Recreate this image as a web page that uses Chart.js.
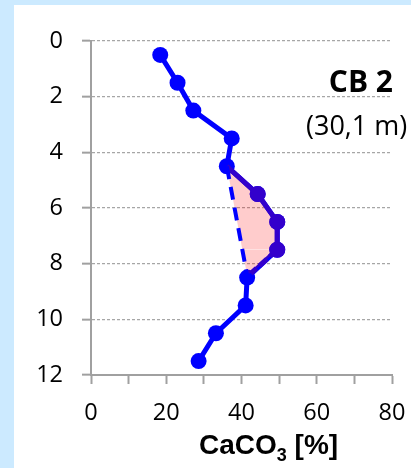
<!DOCTYPE html>
<html><head><meta charset="utf-8">
<script src="https://cdn.jsdelivr.net/npm/chart.js@4"></script>
<style>
html,body{margin:0;padding:0;width:411px;height:468px;overflow:hidden;background:#cceaff;}
#panel{position:absolute;left:14px;top:5px;width:397px;height:463px;background:#fff;}
#c{position:absolute;left:0;top:0;}
</style></head><body>
<div id="panel"></div>
<canvas id="c" width="411" height="468"></canvas>
<script>
// depth below surface [m] and CaCO3 content [%]
const depthM   = [0.5, 1.5, 2.5, 3.5, 4.5, 5.5, 6.5, 7.5, 8.5, 9.5, 10.5, 11.5];
const caco3Pct = [18.4, 23.0, 27.2, 37.4, 36.1, 44.3, 49.5, 49.5, 41.5, 41.1, 33.2, 28.6];
// shaded excess (polygon right edge) and dashed baseline
const shadeDepth = [4.5, 5.5, 6.5, 7.5, 8.35];
const shadePct   = [36.1, 44.3, 49.5, 49.5, 42.5];
const baseDepth  = [4.5, 8.5];
const basePct    = [36.1, 41.6];
// tick labels
const xTickLabels = [0, 20, 40, 60, 80];
const yTickLabels = [0, 2, 4, 6, 8, 10, 12];
const siteName = 'CB 2';
const siteElev = '(30,1 m)';
const xTitleMain = 'CaCO';
const xTitleSub = '3';
const xTitleTail = ' [%]';

const pts = (xs, ys) => xs.map((v, i) => ({x: v, y: ys[i]}));

const textPlugin = {
  id: 'texts',
  afterDraw(chart) {
    const ctx = chart.ctx;
    ctx.save();
    ctx.fillStyle = '#000';
    ctx.textBaseline = 'alphabetic';
    ctx.font = 'bold 30px "Open Sans"';
    ctx.textAlign = 'right';
    ctx.fillText(siteName, 393, 92);
    ctx.font = '27px "Open Sans"';
    ctx.textAlign = 'left';
    ctx.fillText(siteElev, 306, 135);
    let x = 199;
    ctx.font = 'bold 28px "Liberation Sans"';
    ctx.fillText(xTitleMain, x, 454);
    x += ctx.measureText(xTitleMain).width;
    ctx.font = 'bold 18px "Liberation Sans"';
    ctx.fillText(xTitleSub, x, 461);
    x += ctx.measureText(xTitleSub).width;
    ctx.font = 'bold 28px "Liberation Sans"';
    ctx.fillText(xTitleTail, x, 454);
    ctx.restore();
  }
};

new Chart(document.getElementById('c'), {
  type: 'line',
  data: {
    datasets: [
      {
        label: 'baseline',
        data: pts(basePct, baseDepth),
        borderColor: '#0000ff',
        borderWidth: 4,
        borderDash: [13, 8],
        pointRadius: 0,
        fill: false
      },
      {
        label: 'excess',
        data: pts(shadePct, shadeDepth),
        borderColor: '#3300cc',
        borderWidth: 5,
        backgroundColor: 'rgba(255,0,0,0.2)',
        fill: '-1',
        pointRadius: [0, 8, 8, 8, 0],
        pointBackgroundColor: '#3300cc',
        pointBorderWidth: 0,
        segment: {
          borderDash: c => (c.p1DataIndex === 4 ? [10, 4] : undefined)
        }
      },
      {
        label: 'CaCO3',
        data: pts(caco3Pct, depthM),
        borderColor: '#0000ff',
        borderWidth: 5,
        pointRadius: 8,
        pointBackgroundColor: '#0000ff',
        pointBorderWidth: 0,
        fill: false
      }
    ]
  },
  options: {
    indexAxis: 'y',
    responsive: false,
    animation: false,
    devicePixelRatio: 1,
    layout: { padding: { left: 0, right: 19, top: 41, bottom: 0 } },
    plugins: { legend: { display: false }, tooltip: { enabled: false } },
    elements: { line: { tension: 0 } },
    scales: {
      x: {
        type: 'linear',
        position: 'bottom',
        min: 0, max: 80,
        afterFit: s => { s.height = 93; s.paddingLeft = 0; s.paddingRight = 0; },
        ticks: {
          stepSize: 10,
          autoSkip: false,
          maxRotation: 0,
          padding: 15,
          color: '#000',
          font: { family: '"Open Sans"', size: 23.5 },
          callback: v => (xTickLabels.includes(v) ? String(v) : '')
        },
        grid: {
          drawOnChartArea: false,
          drawTicks: true,
          tickLength: 9,
          tickColor: '#a0a0a0',
          tickWidth: 2
        },
        border: { display: true, color: '#a0a0a0', width: 2 }
      },
      y: {
        type: 'linear',
        position: 'left',
        reverse: true,
        min: 0, max: 12,
        afterFit: s => { s.width = 91; s.paddingTop = 0; s.paddingBottom = 0; },
        ticks: {
          stepSize: 2,
          padding: 19,
          color: '#000',
          font: { family: '"Open Sans"', size: 23.5 },
          callback: v => (yTickLabels.includes(v) ? String(v) : '')
        },
        grid: {
          color: '#a6a6a6',
          lineWidth: 1.3,
          tickLength: 9,
          tickColor: '#a0a0a0',
          tickWidth: 2,
          tickBorderDash: []
        },
        border: { display: true, color: '#a0a0a0', width: 2, dash: [3, 2] }
      }
    }
  },
  plugins: [textPlugin]
});
</script>
</body></html>
